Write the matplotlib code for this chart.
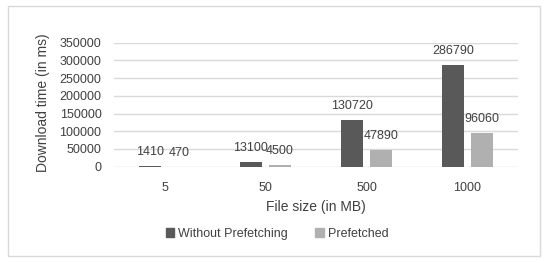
import matplotlib.pyplot as plt
import numpy as np
from matplotlib.patches import Patch, Rectangle

plt.rcParams['font.family'] = ['Liberation Sans', 'DejaVu Sans']

sizes = ["5", "50", "500", "1000"]
without_prefetch = [1410, 13100, 130720, 286790]
prefetched = [470, 4500, 47890, 96060]
series_names = ["Without Prefetching", "Prefetched"]
yticks = [0, 50000, 100000, 150000, 200000, 250000, 300000, 350000]

dark = "#595959"
light = "#b0b0b0"
txt = "#404040"
W, H = 550, 263

fig = plt.figure(figsize=(5.5, 2.63), dpi=100)
# light frame around the chart
fig.patches.append(Rectangle((8 / W, 1 - 256 / H), 532 / W, 250 / H, transform=fig.transFigure,
                             fill=False, edgecolor="#d9d9d9", linewidth=1))

ax = fig.add_axes([114 / W, 1 - 166.7 / H, 404 / W, 124 / H])
x = np.arange(len(sizes))
w = 0.224
off = 0.144
b1 = ax.bar(x - off, without_prefetch, w, color=dark, zorder=3)
b2 = ax.bar(x + off, prefetched, w, color=light, zorder=3)

for bars, vals in ((b1, without_prefetch), (b2, prefetched)):
    for r, v in zip(bars, vals):
        ax.annotate(str(v), (r.get_x() + r.get_width() / 2, v), xytext=(0, 10),
                    textcoords="offset points", ha="center", va="center",
                    fontsize=9, color=txt)

ax.set_xlim(-0.5, 3.5)
ax.set_ylim(0, 350000)
ax.set_xticks(x)
ax.set_xticklabels(sizes)
ax.set_yticks(yticks)
ax.set_yticklabels([str(t) for t in yticks])
ax.tick_params(length=0, labelsize=9, labelcolor=txt)
ax.tick_params(axis="x", pad=11)
ax.tick_params(axis="y", pad=9)
ax.grid(axis="y", color="#d9d9d9", linewidth=1, zorder=0)
for s in ax.spines.values():
    s.set_visible(False)

fig.text(43 / W, 1 - 103 / H, "Download time (in ms)", rotation=90, ha="center", va="center",
         fontsize=10, color=txt)
fig.text(316 / W, 1 - 207 / H, "File size (in MB)", ha="center", va="center",
         fontsize=10, color=txt)

handles = [Patch(color=dark), Patch(color=light)]
fig.legend(handles, series_names, loc="center", bbox_to_anchor=(277 / W, 1 - 234 / H), ncol=2,
           frameon=False, fontsize=9, handlelength=0.7, handleheight=0.7, handletextpad=0.3,
           columnspacing=2.2, labelcolor=txt)

fig.savefig("out.png", dpi=100)
